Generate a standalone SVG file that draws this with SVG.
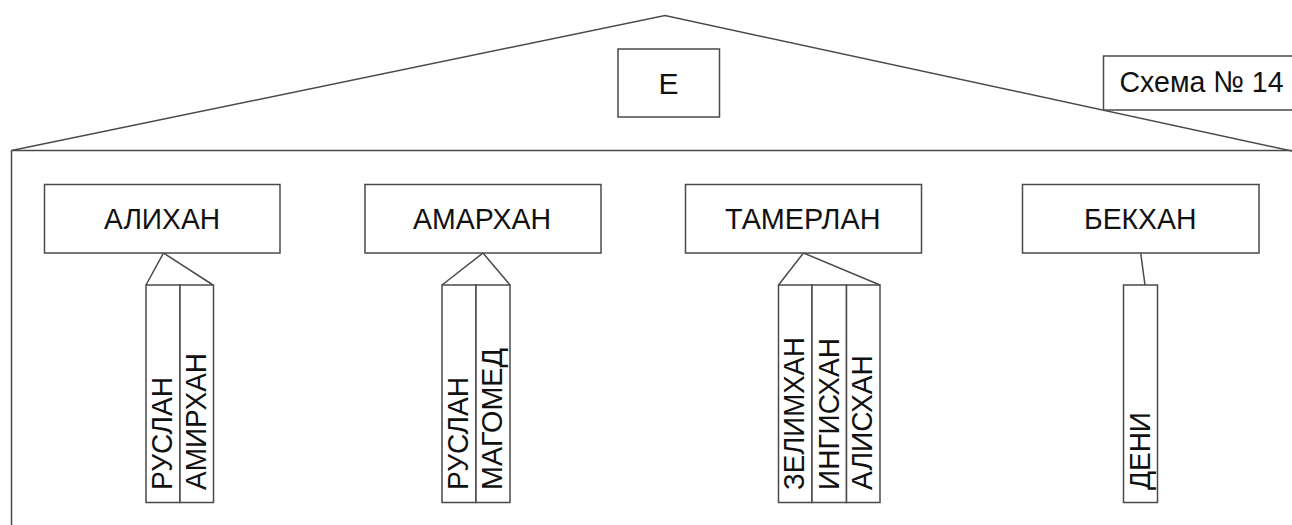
<svg xmlns="http://www.w3.org/2000/svg" width="1292" height="525" viewBox="0 0 1292 525">
<style>
.ln{fill:none;stroke:#4a4a4a;stroke-width:1.5}
.bx{fill:#fff;stroke:#4a4a4a;stroke-width:1.5}
.t{font-family:"Liberation Sans",Arial,sans-serif;font-size:30px;fill:#111}
.c{text-anchor:middle}
</style>
<rect width="1292" height="525" fill="#fff"/>
<g id="house">
<polyline class="ln" points="11.5,150.5 665,15.5 1292,151"/>
<line class="ln" x1="11.5" y1="150.5" x2="1292" y2="150.5"/>
<line class="ln" x1="11.5" y1="150.5" x2="11.5" y2="525"/>
</g>
<g id="connectors">
<polyline class="ln" points="146,285 163.5,253 213,285"/>
<polyline class="ln" points="442,285 483,253 510,285"/>
<polyline class="ln" points="778.5,285 803.5,253 880,285"/>
<line class="ln" x1="1140.7" y1="253" x2="1145" y2="285"/>
</g>
<g id="node-E">
<rect class="bx" x="618" y="49" width="101.5" height="68"/>
<text class="t c" x="668.5" y="93.5">Е</text>
</g>
<g id="node-schema">
<rect class="bx" x="1103.5" y="56" width="200" height="54"/>
<text class="t" x="1119.5" y="92" textLength="164" lengthAdjust="spacingAndGlyphs">Схема № 14</text>
</g>
<g id="node-alikhan">
<rect class="bx" x="44.5" y="184.5" width="235.5" height="68.5"/>
<text class="t" x="104" y="229" textLength="116" lengthAdjust="spacingAndGlyphs">АЛИХАН</text>
</g>
<g id="node-amarkhan">
<rect class="bx" x="365" y="184.5" width="236" height="68.5"/>
<text class="t" x="413" y="229" textLength="138" lengthAdjust="spacingAndGlyphs">АМАРХАН</text>
</g>
<g id="node-tamerlan">
<rect class="bx" x="685.5" y="184.5" width="236" height="68.5"/>
<text class="t" x="725" y="229" textLength="155.5" lengthAdjust="spacingAndGlyphs">ТАМЕРЛАН</text>
</g>
<g id="node-bekhan">
<rect class="bx" x="1022.5" y="184.5" width="236.5" height="68.5"/>
<text class="t" x="1084" y="229" textLength="112.5" lengthAdjust="spacingAndGlyphs">БЕКХАН</text>
</g>
<g id="children-alikhan">
<rect class="bx" x="146" y="285" width="34" height="217.5"/>
<rect class="bx" x="180" y="285" width="33.5" height="217.5"/>
<text class="t" transform="translate(172,490) rotate(-90)" textLength="113" lengthAdjust="spacingAndGlyphs">РУСЛАН</text>
<text class="t" transform="translate(205.5,490) rotate(-90)" textLength="137" lengthAdjust="spacingAndGlyphs">АМИРХАН</text>
</g>
<g id="children-amarkhan">
<rect class="bx" x="442" y="285" width="34" height="217.5"/>
<rect class="bx" x="476" y="285" width="34" height="217.5"/>
<text class="t" transform="translate(468,490) rotate(-90)" textLength="113" lengthAdjust="spacingAndGlyphs">РУСЛАН</text>
<text class="t" transform="translate(501.5,490) rotate(-90)" textLength="142" lengthAdjust="spacingAndGlyphs">МАГОМЕД</text>
</g>
<g id="children-tamerlan">
<rect class="bx" x="778.5" y="285" width="33.5" height="217.5"/>
<rect class="bx" x="812" y="285" width="34.5" height="217.5"/>
<rect class="bx" x="846.5" y="285" width="33.5" height="217.5"/>
<text class="t" transform="translate(803.5,490) rotate(-90)" textLength="153" lengthAdjust="spacingAndGlyphs">ЗЕЛИМХАН</text>
<text class="t" transform="translate(838.5,490) rotate(-90)" textLength="152" lengthAdjust="spacingAndGlyphs">ИНГИСХАН</text>
<text class="t" transform="translate(872,490) rotate(-90)" textLength="135" lengthAdjust="spacingAndGlyphs">АЛИСХАН</text>
</g>
<g id="children-bekhan">
<rect class="bx" x="1123.5" y="285" width="34" height="217.5"/>
<text class="t" transform="translate(1149.5,490) rotate(-90)" textLength="78" lengthAdjust="spacingAndGlyphs">ДЕНИ</text>
</g>
</svg>
